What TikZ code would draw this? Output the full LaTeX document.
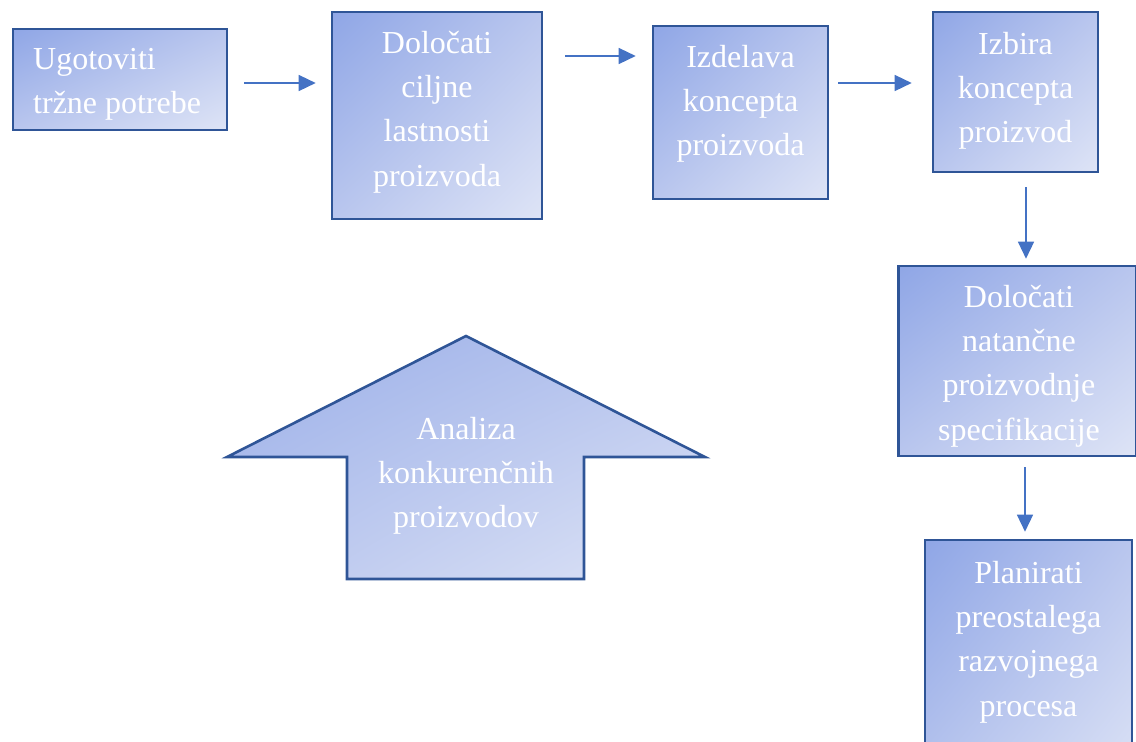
\documentclass[tikz,border=0pt]{standalone}
\usepackage{fontspec}
\setmainfont{Liberation Serif}
\usetikzlibrary{arrows.meta,shadings}
\definecolor{gA}{HTML}{8FA6E6}
\definecolor{gB}{HTML}{DEE4F6}
\definecolor{gM}{HTML}{B9C6EE}
\definecolor{bord}{HTML}{2F5597}
\definecolor{arc}{HTML}{4472C4}
\tikzset{
  box/.style={draw=bord, line width=2.6pt, upper left=gA, lower right=gB, upper right=gM, lower left=gM, inner sep=0pt},
  bigarrow/.style={draw=bord, line width=2.6pt, line join=miter, upper left=gA!85!gB, lower right=gB, upper right=gM, lower left=gM},
  txt/.style={text=white, font=\fontsize{32}{44.2}\selectfont, align=center, inner sep=0pt},
  arr/.style={draw=arc, line width=1.4pt, -{Triangle[length=17pt,width=16pt]}}
}
\begin{document}
\begin{tikzpicture}[x=1pt,y=-1pt]
\useasboundingbox (0,0) rectangle (1136,742);
\clip (0,0) rectangle (1136,742);
% boxes
\node[box, minimum width=214pt, minimum height=101pt] (b1) at (120,79.5) {};
\node[box, minimum width=210pt, minimum height=207pt] (b2) at (437,115.5) {};
\node[box, minimum width=175pt, minimum height=173pt] (b3) at (740.5,112.5) {};
\node[box, minimum width=165pt, minimum height=160pt] (b4) at (1015.5,92) {};
\node[box, minimum width=238pt, minimum height=190pt] (b5) at (1017.5,361) {};
\node[box, minimum width=207pt, minimum height=260pt] (b6) at (1028.5,670) {};
% big arrow
\draw[bigarrow] (466,336) -- (705,457) -- (584,457) -- (584,579) -- (347,579) -- (347,457) -- (227,457) -- cycle;
% texts
\node[txt, align=left, anchor=west] (t1) at (33,84) {Ugotoviti\\tržne potrebe};
\node[txt] (t2) at (437,112) {Določati\\ciljne\\lastnosti\\proizvoda};
\node[txt] (t3) at (740.5,104) {Izdelava\\koncepta\\proizvoda};
\node[txt] (t4) at (1015.5,91) {Izbira\\koncepta\\proizvod};
\node[txt] (t5) at (1019,366) {Določati\\natančne\\proizvodnje\\specifikacije};
\node[txt] (t6) at (1028.5,642) {Planirati\\preostalega\\razvojnega\\procesa};
\node[txt] (t7) at (466,476) {Analiza\\konkurenčnih\\proizvodov};
% connectors
\draw[arr, shorten <=16pt, shorten >=15pt] (b1.east |- 0,83) -- (b2.west |- 0,83);
\draw[arr, shorten <=22pt, shorten >=16pt] (b2.east |- 0,56) -- (b3.west |- 0,56);
\draw[arr, shorten <=9pt, shorten >=20pt] (b3.east |- 0,83) -- (b4.west |- 0,83);
\draw[arr, shorten <=14pt, shorten >=6pt] (b4.south -| 1026,0) -- (b5.north -| 1026,0);
\draw[arr, shorten <=10pt, shorten >=7pt] (b5.south -| 1025,0) -- (b6.north -| 1025,0);
\end{tikzpicture}
\end{document}
